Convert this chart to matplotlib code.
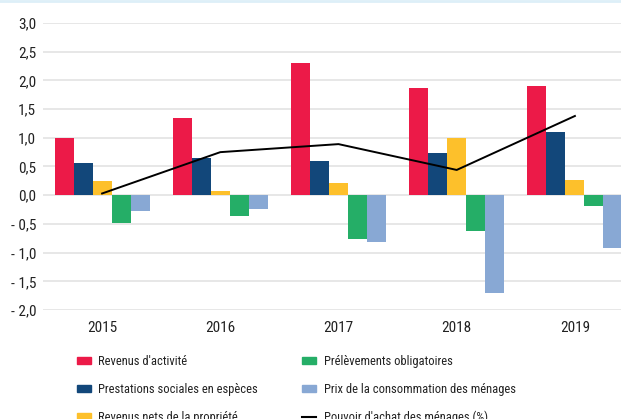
import matplotlib
matplotlib.use("Agg")
import matplotlib.pyplot as plt
from matplotlib import font_manager
import numpy as np
from matplotlib.patches import Patch
from matplotlib.lines import Line2D

years = ["2015", "2016", "2017", "2018", "2019"]
revenus_activite = [1.00, 1.34, 2.30, 1.87, 1.90]
prestations = [0.56, 0.65, 0.59, 0.73, 1.10]
revenus_propriete = [0.24, 0.07, 0.21, 1.00, 0.26]
prelevements = [-0.48, -0.36, -0.76, -0.62, -0.19]
prix_conso = [-0.27, -0.24, -0.82, -1.70, -0.92]
pouvoir_achat = [0.03, 0.75, 0.89, 0.44, 1.38]

series = [
    ("Revenus d'activité", revenus_activite, "#EC1A48"),
    ("Prestations sociales en espèces", prestations, "#12477A"),
    ("Revenus nets de la propriété", revenus_propriete, "#FDC02B"),
    ("Prélèvements obligatoires", prelevements, "#25AE67"),
    ("Prix de la consommation des ménages", prix_conso, "#88A8D4"),
]

# narrow font if there is one
names = set(f.name for f in font_manager.fontManager.ttflist)
narrow = None
for n in ["Liberation Sans Narrow", "DejaVu Sans Condensed", "Roboto Condensed", "Open Sans Condensed"]:
    if n in names:
        narrow = n
        break
if narrow:
    plt.rcParams['font.family'] = [narrow, 'DejaVu Sans']
    tick_fs, leg_fs = 11, 9.0
else:
    plt.rcParams['font.family'] = ['Liberation Sans', 'DejaVu Sans']
    tick_fs, leg_fs = 10, 8

fig = plt.figure(figsize=(6.21, 4.19), dpi=100)
ax = fig.add_axes([43/621, 1-310/419, 591/621, 287/419])

x = np.arange(len(years))
w = 0.161
for i, (name, vals, col) in enumerate(series):
    ax.bar(x + (i - 2) * w, vals, width=w, color=col, zorder=3)
ax.plot(x, pouvoir_achat, color="black", lw=1.4, zorder=4)

ax.set_xlim(-0.5, len(years) - 0.5)
ax.set_ylim(-2.0, 3.0)
yt = np.arange(-2.0, 3.01, 0.5)
ax.set_yticks(yt)
ax.set_yticklabels([("- " if v < 0 else "") + ("%.1f" % abs(v)).replace(".", ",") for v in yt])
ax.set_xticks(x)
ax.set_xticklabels(years)
ax.tick_params(length=0, labelsize=tick_fs, colors="#222222")
ax.tick_params(axis="y", pad=5)
ax.tick_params(axis="x", pad=8)
ax.grid(axis="y", color="#E3E3E3", lw=1.2, zorder=0)
for s in ax.spines.values():
    s.set_visible(False)

handles = [Patch(color=c) for _, _, c in series] + [Line2D([], [], color="black", lw=1.5)]
labels = [n for n, _, _ in series] + ["Pouvoir d'achat des ménages (%)"]
order1 = [0, 1, 2]
order2 = [3, 4, 5]
px = 14 / (leg_fs * 100 / 72)
for order, x0 in [(order1, 67), (order2, 292)]:
    fig.legend([handles[k] for k in order], [labels[k] for k in order], loc="upper left",
               bbox_to_anchor=(x0/621, 1-345/419), frameon=False, fontsize=leg_fs,
               handlelength=px, handleheight=0.5, handletextpad=0.6, labelspacing=1.2,
               borderpad=0.3, labelcolor="#222222")

fig.add_artist(Line2D([0, 1], [1 - 1/419, 1 - 1/419], color="#DDEFF8", lw=2))

fig.savefig("out.png", dpi=100)
